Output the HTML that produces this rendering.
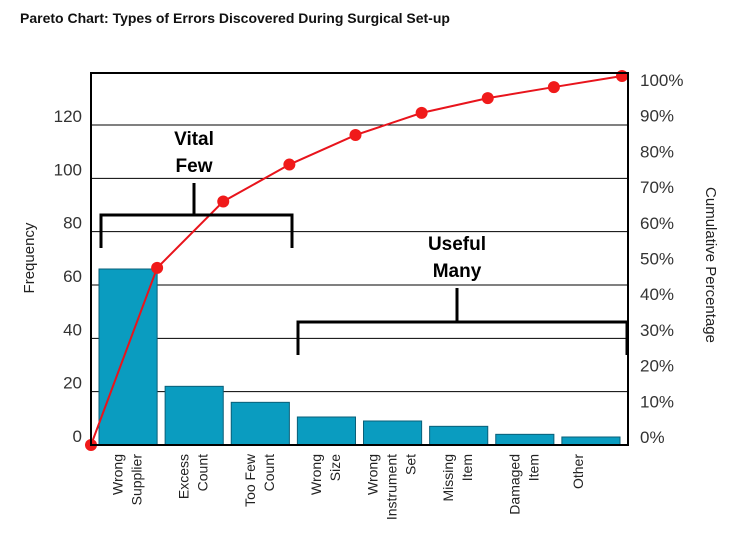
<!DOCTYPE html>
<html><head><meta charset="utf-8"><style>
body{margin:0;background:#fff;}
svg{display:block;font-family:"Liberation Sans",sans-serif;}
</style></head><body>
<svg id="chart" width="750" height="541">
<text x="20" y="23" font-size="14" font-weight="bold" fill="#111">Pareto Chart: Types of Errors Discovered During Surgical Set-up</text>
<g id="grid"></g>
<g id="bars"></g>
<g id="line"></g>
<g id="axes"></g>
<rect x="91" y="73" width="537" height="372" fill="none" stroke="#000" stroke-width="2"/>
<text transform="translate(34,258) rotate(-90)" text-anchor="middle" font-size="15" fill="#222">Frequency</text>
<text transform="translate(706,265) rotate(90)" text-anchor="middle" font-size="15" fill="#222">Cumulative Percentage</text>
<g stroke="#000" stroke-width="3" fill="none">
<path d="M101,248 V215 H292 V248 M194,215 V183"/>
</g>
<text x="194" y="145" text-anchor="middle" font-size="19" font-weight="bold"><tspan x="194">Vital</tspan><tspan x="194" dy="27">Few</tspan></text>
<g stroke="#000" stroke-width="3" fill="none">
<path d="M298,355 V322 H627 V355 M457,322 V288"/>
</g>
<text x="457" y="250" text-anchor="middle" font-size="19" font-weight="bold"><tspan x="457">Useful</tspan><tspan x="457" dy="27">Many</tspan></text>
</svg>
<script>
const categories=[["Wrong","Supplier"],["Excess","Count"],["Too Few","Count"],["Wrong","Size"],["Wrong","Instrument","Set"],["Missing","Item"],["Damaged","Item"],["Other"]];
const frequencies=[66,22,16,10.5,9,7,4,3];
const cumulativePct=[0,48,66,76,84,90,94,97,100];
const yTicks=[0,20,40,60,80,100,120];
const y2Ticks=[0,10,20,30,40,50,60,70,80,90,100];
const NS="http://www.w3.org/2000/svg";
const L=91,R=628,T=73,B=445,YMAX=139.5;
const y=v=>B-(v/YMAX)*(B-T);
const y2=p=>B-(p/100)*(B-76);
const y2Label=p=>437-(p/100)*357;
const step=(R-L-8)/categories.length;
const bx=i=>L+8+i*step;
const bw=step-8;
function el(tag,attrs,parent){const e=document.createElementNS(NS,tag);for(const k in attrs)e.setAttribute(k,attrs[k]);parent.appendChild(e);return e;}
const grid=document.getElementById('grid'),bars=document.getElementById('bars'),line=document.getElementById('line'),axes=document.getElementById('axes');
yTicks.forEach(t=>{
 if(t>0){const g=el('line',{x1:L,x2:R,y1:y(t),y2:y(t),stroke:'#000','stroke-width':1},grid);
 
 }
 const tx=el('text',{x:82,y:y(t)-3,'text-anchor':'end','font-size':17,fill:'#333'},axes);tx.textContent=t;
 
 
});
y2Ticks.forEach(t=>{
 const tx=el('text',{x:640,y:y2Label(t)+6,'font-size':17,fill:'#333'},axes);tx.textContent=t+'%';
 
 
});
frequencies.forEach((v,i)=>{
 const r=el('rect',{x:bx(i),y:y(v),width:bw,height:B-y(v),fill:'#0a9cc0',stroke:'#0a5f78','stroke-width':1},bars);
 
 
 const cx=bx(i)+bw/2;
 const lines=categories[i];
 lines.forEach((s,j)=>{
  const off=(j-(lines.length-1)/2)*19+(lines.length===1?-8:4);
  const tx=el('text',{transform:`translate(${cx+off},454) rotate(-90)`,'text-anchor':'end','font-size':14,fill:'#222'},axes);
  tx.textContent=s;
  
  
 });
});
const pts=cumulativePct.map((p,i)=>[i===0?L:bx(i-1)+bw+(i===cumulativePct.length-1?2:0),y2(p)]);
const pl=el('polyline',{points:pts.map(p=>p.join(',')).join(' '),fill:'none',stroke:'#e8141c','stroke-width':2},line);


pts.forEach((p,i)=>{
 const c=el('circle',{cx:p[0],cy:p[1],r:6,fill:'#f01a1a'},line);
 
 
});
</script>
</body></html>
